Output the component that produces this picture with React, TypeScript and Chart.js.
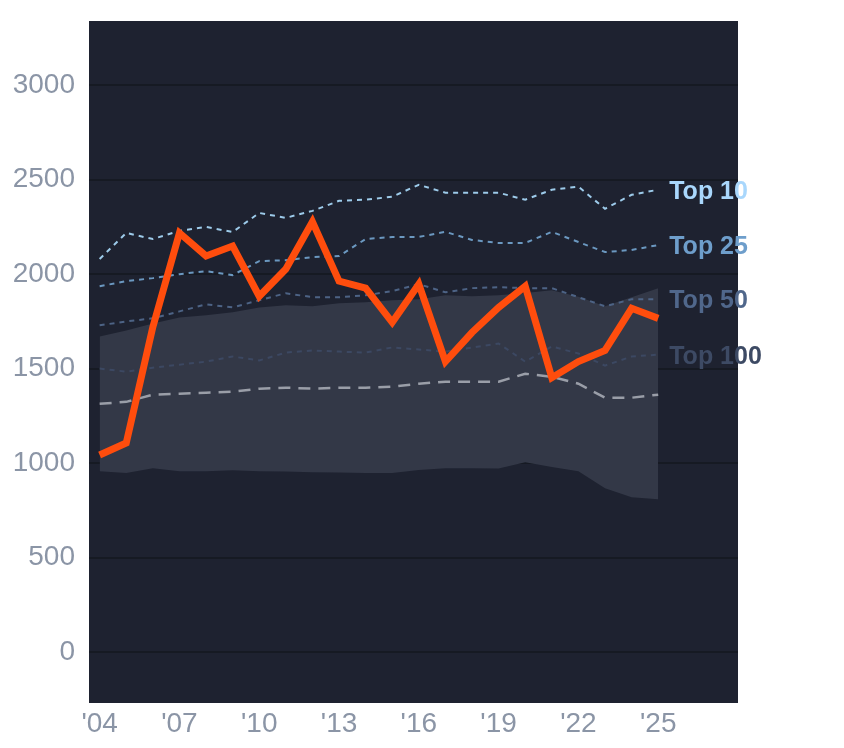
import { useEffect, useRef } from 'react';
import { Chart, registerables } from 'chart.js';
import type { ChartConfiguration, Plugin } from 'chart.js';

Chart.register(...registerables);

// Data
const years = [
  2004, 2005, 2006, 2007, 2008, 2009, 2010, 2011, 2012, 2013, 2014,
  2015, 2016, 2017, 2018, 2019, 2020, 2021, 2022, 2023, 2024, 2025,
];
const mainSeries = [
  1043, 1106, 1720, 2218, 2096, 2149, 1883, 2027, 2277, 1963, 1926,
  1745, 1947, 1537, 1691, 1824, 1936, 1452, 1537, 1596, 1819, 1766,
];
const top10 = [
  2080, 2218, 2186, 2229, 2250, 2223, 2324, 2298, 2335, 2388, 2394,
  2410, 2473, 2431, 2431, 2431, 2394, 2447, 2463, 2346, 2420, 2447,
];
const top25 = [
  1936, 1963, 1979, 2000, 2016, 1995, 2069, 2074, 2090, 2096, 2186,
  2197, 2197, 2224, 2181, 2165, 2165, 2224, 2170, 2117, 2128, 2154,
];
const top50 = [
  1729, 1750, 1766, 1803, 1840, 1824, 1862, 1899, 1878, 1878, 1888,
  1910, 1947, 1904, 1926, 1931, 1926, 1926, 1878, 1830, 1867, 1867,
];
const top100 = [
  1500, 1484, 1505, 1521, 1537, 1564, 1543, 1585, 1596, 1590, 1585,
  1612, 1601, 1590, 1612, 1633, 1537, 1617, 1580, 1516, 1564, 1574,
];
const median = [
  1314, 1324, 1362, 1367, 1372, 1378, 1394, 1399, 1394, 1399, 1399,
  1404, 1420, 1431, 1431, 1431, 1473, 1457, 1420, 1346, 1346, 1362,
];
const bandUpper = [
  1670, 1702, 1739, 1771, 1782, 1798, 1824, 1835, 1830, 1846, 1851,
  1862, 1867, 1888, 1883, 1888, 1900, 1915, 1880, 1830, 1878, 1925,
];
const bandLower = [
  957, 947, 973, 957, 957, 962, 957, 955, 952, 950, 947,
  947, 963, 973, 973, 971, 1005, 979, 957, 867, 819, 809,
];
const xTicks = [2004, 2007, 2010, 2013, 2016, 2019, 2022, 2025];
const yTicks = [0, 500, 1000, 1500, 2000, 2500, 3000];

const pts = (vals: number[]) => years.map((x, i) => ({ x, y: vals[i] }));

const labelled = [
  { text: 'Top 10', values: top10, color: '#a9d7fc' },
  { text: 'Top 25', values: top25, color: '#6e9ecb' },
  { text: 'Top 50', values: top50, color: '#50678b' },
  { text: 'Top 100', values: top100, color: '#3d4a64' },
];

const plotBg: Plugin<'line'> = {
  id: 'plotBg',
  beforeDraw(chart) {
    const { ctx, chartArea } = chart;
    ctx.save();
    ctx.fillStyle = '#1e2230';
    ctx.fillRect(chartArea.left, chartArea.top, chartArea.right - chartArea.left, chartArea.bottom - chartArea.top);
    ctx.restore();
  },
};

const endLabels: Plugin<'line'> = {
  id: 'endLabels',
  afterDatasetsDraw(chart) {
    const { ctx, scales } = chart;
    const last = years.length - 1;
    ctx.save();
    ctx.font = 'bold 25px "Liberation Sans", Arial, sans-serif';
    ctx.textAlign = 'left';
    ctx.textBaseline = 'middle';
    labelled.forEach((l) => {
      ctx.fillStyle = l.color;
      const x = scales.x.getPixelForValue(years[last]) + 11;
      const y = scales.y.getPixelForValue(l.values[last]) + 2;
      ctx.fillText(l.text, x, y);
    });
    ctx.restore();
  },
};

export default function App() {
  const canvasRef = useRef<HTMLCanvasElement>(null);
  const chartRef = useRef<Chart | null>(null);

  useEffect(() => {
    if (!canvasRef.current) return;
    if (chartRef.current) chartRef.current.destroy();

    const dotted = (vals: number[], color: string) => ({
      data: pts(vals),
      borderColor: color,
      borderWidth: 2,
      borderDash: [5, 5],
      pointRadius: 0,
      fill: false,
    });

    const config: ChartConfiguration<'line'> = {
      type: 'line',
      data: {
        datasets: [
          { data: pts(mainSeries), borderColor: '#ff4d0d', borderWidth: 7, pointRadius: 0, fill: false, borderJoinStyle: 'miter' },
          dotted(top10, '#9dcbea'),
          dotted(top25, '#6b98c0'),
          dotted(top50, '#4d6385'),
          dotted(top100, '#3c4862'),
          { data: pts(median), borderColor: '#9a9ea8', borderWidth: 2.5, borderDash: [12, 8], pointRadius: 0, fill: false },
          { data: pts(bandLower), borderWidth: 0, borderColor: 'transparent', pointRadius: 0, fill: false },
          { data: pts(bandUpper), borderWidth: 0, borderColor: 'transparent', pointRadius: 0, fill: '-1', backgroundColor: '#333847' },
        ],
      },
      options: {
        responsive: false,
        animation: false,
        layout: { padding: { top: 13, right: 98, bottom: 0, left: 0 } },
        plugins: {
          legend: { display: false },
          tooltip: { enabled: false },
        },
        scales: {
          x: {
            type: 'linear',
            min: 2003.6,
            max: 2028,
            grid: { display: false, drawTicks: false },
            border: { display: false },
            ticks: {
              color: '#8b95a6',
              font: { size: 28, family: '"Liberation Sans", Arial, sans-serif' },
              padding: 4,
              maxRotation: 0,
              callback: (v) => "'" + String(Number(v) % 100).padStart(2, '0'),
            },
            afterBuildTicks: (scale) => {
              scale.ticks = xTicks.map((value) => ({ value }));
            },
            afterFit: (scale) => {
              scale.height = 37;
              scale.paddingLeft = 0;
              scale.paddingRight = 0;
            },
          },
          y: {
            type: 'linear',
            min: -270,
            max: 3340,
            grid: { color: '#161a23', lineWidth: 2, drawTicks: false },
            border: { display: false },
            ticks: {
              color: '#8b95a6',
              font: { size: 28, family: '"Liberation Sans", Arial, sans-serif' },
              padding: 14,
              callback: (v) => String(v),
            },
            afterBuildTicks: (scale) => {
              scale.ticks = yTicks.map((value) => ({ value }));
            },
            afterFit: (scale) => {
              scale.width = 81;
              scale.paddingTop = 0;
              scale.paddingBottom = 0;
            },
          },
        },
      },
      plugins: [plotBg, endLabels],
    };

    chartRef.current = new Chart(canvasRef.current, config);
    return () => {
      if (chartRef.current) {
        chartRef.current.destroy();
        chartRef.current = null;
      }
    };
  }, []);

  return (
    <canvas ref={canvasRef} width={828} height={732} style={{ display: 'block' }} />
  );
}
